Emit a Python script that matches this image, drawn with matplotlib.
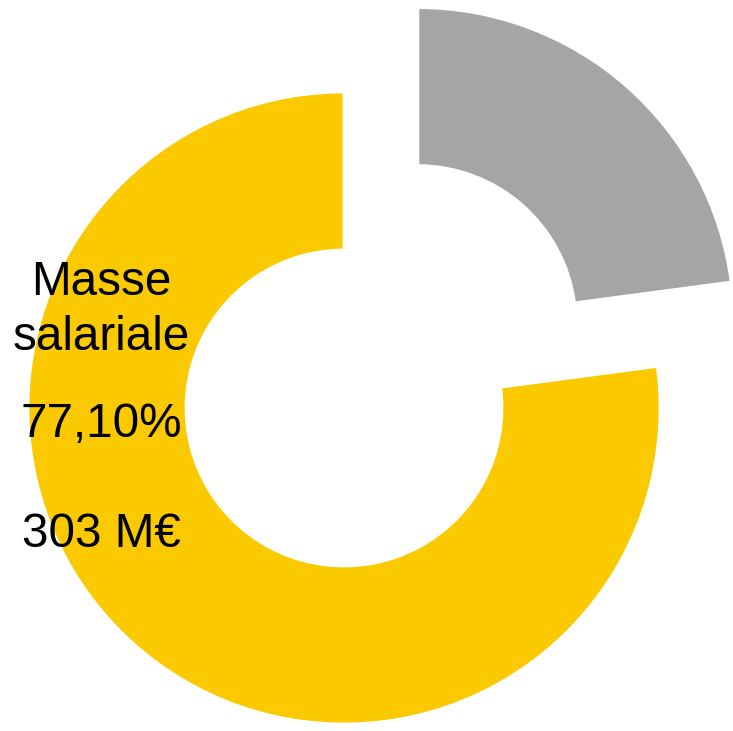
import matplotlib.pyplot as plt

# Données du graphique
categories = ['Masse salariale', 'Autres']
valeurs = [77.10, 22.90]
couleurs = ['#FAC900', '#A5A5A5']
explode = [0, 0.355]

lignes_texte = ['Masse', 'salariale', '77,10%', '303 M€']
lignes_y_px = [295, 350, 437, 547]  # lignes de base en pixels

W, H = 733, 731
fig = plt.figure(figsize=(W / 100, H / 100), dpi=100)
ax = fig.add_axes([0, 0, 1, 1])

ax.pie(valeurs, colors=couleurs, explode=explode, startangle=90,
       counterclock=True, radius=1.0,
       wedgeprops=dict(width=0.5, edgecolor='white', linewidth=2))

# Centre du donut à (344, 408) px, rayon 316 px
cx, cy, r = 344, 408, 316
ax.set_xlim(-cx / r, (W - cx) / r)
ax.set_ylim(-(H - cy) / r, cy / r)
ax.set_aspect('equal')
ax.axis('off')

for texte, y in zip(lignes_texte, lignes_y_px):
    fig.text(101 / W, 1 - y / H, texte, ha='center', va='baseline',
             fontsize=34.3, family='Liberation Sans', color='black')

fig.savefig('out.png', dpi=100)
